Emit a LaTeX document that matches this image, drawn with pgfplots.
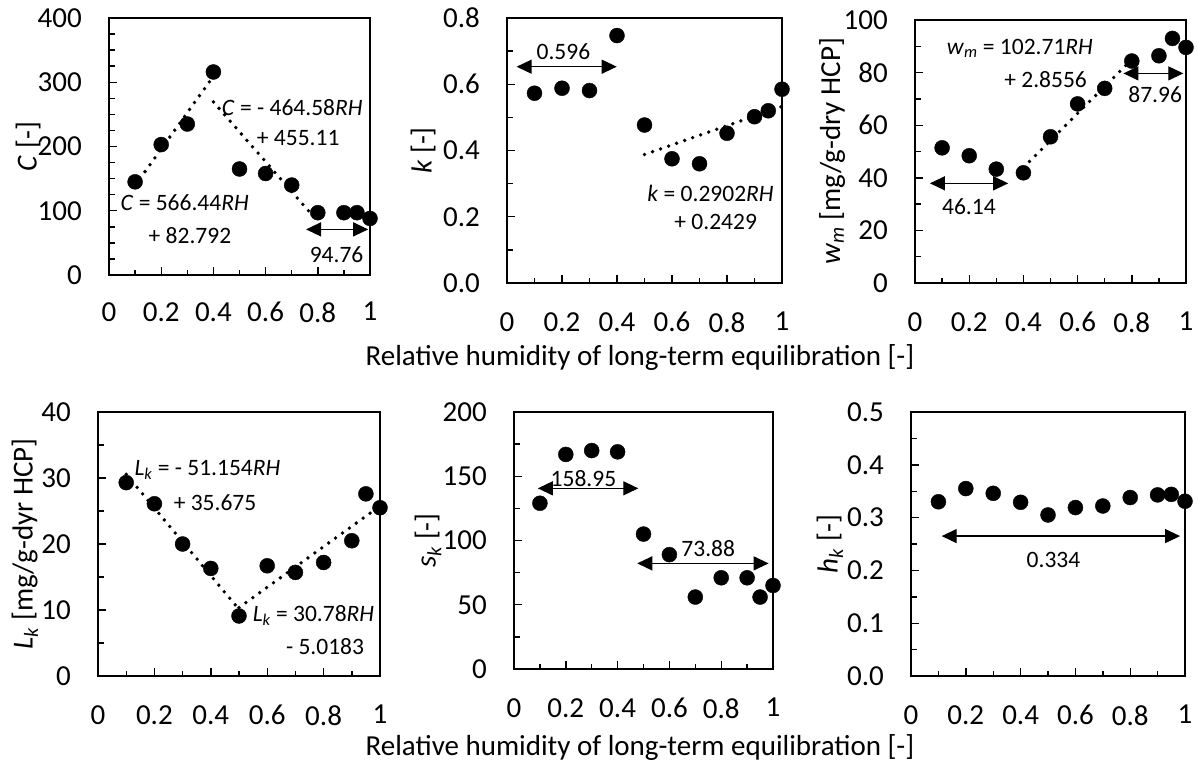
\documentclass[border=0pt]{standalone}
\usepackage{fontspec}
\setmainfont{Carlito}
\usepackage{pgfplots}
\pgfplotsset{compat=1.18}
\usetikzlibrary{arrows.meta}

\pgfplotsset{
  panel/.style={
    scale only axis, clip=false, anchor=south west,
    xmin=0, xmax=1,
    xtick={0,0.2,0.4,0.6,0.8,1},
    minor xtick={0.1,0.3,0.5,0.7,0.9},
    xtick pos=bottom, ytick pos=left, tick align=inside,
    major tick length=8pt, minor tick length=5.5pt,
    every tick/.style={black, line width=1.4pt},
    axis line style={line width=2pt},
    font=\fontsize{29}{34}\selectfont,
    /pgf/number format/assume math mode=true,
    xticklabel style={inner sep=0pt, anchor=north},
    yticklabel style={inner sep=0pt, anchor=east},
    xticklabel shift=29pt,
    yticklabel shift=27pt,
  },
  dots/.style={only marks, mark=*, mark size=7.5pt, black},
  trend/.style={black, line width=3.8pt, line cap=round, dash pattern=on 0pt off 8.5pt, no marks, forget plot},
  dbl/.style={black, line width=1.3pt, no marks, forget plot, {Triangle[length=15pt,width=14pt]}-{Triangle[length=15pt,width=14pt]}},
}
\tikzset{
  ann/.style={font=\fontsize{23.5}{26}\selectfont, inner sep=0pt},
  ylab/.style={rotate=90, font=\fontsize{29}{34}\selectfont, inner sep=0pt},
}

\begin{document}
\begin{tikzpicture}
\path (0,0) rectangle (1198pt,-764pt);

% ---------- Panel 1: C ----------
\begin{axis}[panel, at={(109pt,-275pt)}, width=261pt, height=257pt,
  ymin=0, ymax=400, ytick={0,100,200,300,400}, minor y tick num=3,
  xticklabel shift=27pt]
\addplot[trend] coordinates {(0.1,139.4) (0.4,309.4)};
\addplot[trend] coordinates {(0.4,269.3) (0.8,83.4)};
\addplot[dots] coordinates {(0.1,145) (0.2,203) (0.3,235) (0.4,316) (0.5,165) (0.6,158) (0.7,140) (0.8,97) (0.9,97) (0.95,97) (1.0,88)};
\addplot[dbl] coordinates {(0.755,71) (0.993,71)};
\node[ann] at (axis cs:0.872,31) {94.76};
\node[ann] at (axis cs:0.702,260) {\textit{C} = - 464.58\textit{RH}};
\node[ann] at (axis cs:0.725,213) {+ 455.11};
\node[ann] at (axis cs:0.29,112) {\textit{C} = 566.44\textit{RH}};
\node[ann] at (axis cs:0.31,62) {+ 82.792};
\node[ylab] at (rel axis cs:-0.310,0.5) {\textit{C} [-]};
\end{axis}

% ---------- Panel 2: k ----------
\begin{axis}[panel, at={(507pt,-283pt)}, width=275pt, height=265pt,
  ymin=0, ymax=0.8, ytick={0,0.2,0.4,0.6,0.8}, minor y tick num=1,
  yticklabel style={/pgf/number format/.cd, fixed, fixed zerofill, precision=1}]
\addplot[trend] coordinates {(0.5,0.388) (1.0,0.533)};
\addplot[dots] coordinates {(0.1,0.573) (0.2,0.588) (0.3,0.581) (0.4,0.747) (0.5,0.477) (0.6,0.375) (0.7,0.360) (0.8,0.452) (0.9,0.502) (0.95,0.520) (1.0,0.585)};
\addplot[dbl] coordinates {(0.035,0.653) (0.399,0.653)};
\node[ann] at (axis cs:0.205,0.699) {0.596};
\node[ann] at (axis cs:0.74,0.271) {\textit{k} = 0.2902\textit{RH}};
\node[ann] at (axis cs:0.759,0.185) {+ 0.2429};
\node[ylab] at (rel axis cs:-0.305,0.5) {\textit{k} [-]};
\end{axis}

% ---------- Panel 3: w_m ----------
\begin{axis}[panel, at={(915pt,-283pt)}, width=271pt, height=263pt,
  ymin=0, ymax=100, ytick={0,20,40,60,80,100}, minor y tick num=1]
\addplot[trend] coordinates {(0.4,43.94) (0.8,85.02)};
\addplot[dots] coordinates {(0.1,51.4) (0.2,48.4) (0.3,43.3) (0.4,41.9) (0.5,55.6) (0.6,68.1) (0.7,74.0) (0.8,84.4) (0.9,86.4) (0.95,93.0) (1.0,89.6)};
\addplot[dbl] coordinates {(0.055,37.9) (0.344,37.9)};
\addplot[dbl] coordinates {(0.769,79.7) (0.99,79.7)};
\node[ann] at (axis cs:0.199,29) {46.14};
\node[ann] at (axis cs:0.886,71.7) {87.96};
\node[ann] at (axis cs:0.387,89.2) {\textit{w}\textsubscript{\textit{m}} = 102.71\textit{RH}};
\node[ann] at (axis cs:0.482,77.2) {+ 2.8556};
\node[ylab] at (rel axis cs:-0.306,0.5) {\textit{w}\textsubscript{\textit{m}} [mg/g-dry HCP]};
\end{axis}

% ---------- Panel 4: L_k ----------
\begin{axis}[panel, at={(98pt,-676pt)}, width=282pt, height=264pt,
  ymin=0, ymax=40, ytick={0,10,20,30,40}, minor y tick num=1]
\addplot[trend] coordinates {(0.1,30.56) (0.5,10.10)};
\addplot[trend] coordinates {(0.5,10.37) (1.0,25.76)};
\addplot[dots] coordinates {(0.1,29.3) (0.2,26.1) (0.3,20.0) (0.4,16.3) (0.5,9.1) (0.6,16.7) (0.7,15.7) (0.8,17.2) (0.9,20.5) (0.95,27.6) (1.0,25.5)};
\node[ann] at (axis cs:0.388,31.2) {\textit{L}\textsubscript{\textit{k}} = - 51.154\textit{RH}};
\node[ann] at (axis cs:0.415,26.3) {+ 35.675};
\node[ann] at (axis cs:0.764,9.2) {\textit{L}\textsubscript{\textit{k}} = 30.78\textit{RH}};
\node[ann] at (axis cs:0.805,4.4) {- 5.0183};
\node[ylab] at (rel axis cs:-0.259,0.5) {\textit{L}\textsubscript{\textit{k}} [mg/g-dyr HCP]};
\end{axis}

% ---------- Panel 5: s_k ----------
\begin{axis}[panel, at={(514pt,-669pt)}, width=259pt, height=257pt,
  ymin=0, ymax=200, ytick={0,50,100,150,200}, minor y tick num=1]
\addplot[dots] coordinates {(0.1,129) (0.2,167) (0.3,170) (0.4,169) (0.5,105) (0.6,89) (0.7,56) (0.8,71) (0.9,71) (0.95,56) (1.0,65)};
\addplot[dbl] coordinates {(0.092,140.6) (0.48,140.6)};
\addplot[dbl] coordinates {(0.476,82.2) (0.983,82.2)};
\node[ann] at (axis cs:0.268,148.4) {158.95};
\node[ann] at (axis cs:0.75,94) {73.88};
\node[ylab] at (rel axis cs:-0.332,0.5) {\textit{s}\textsubscript{\textit{k}} [-]};
\end{axis}

% ---------- Panel 6: h_k ----------
\begin{axis}[panel, at={(911pt,-676pt)}, width=274pt, height=264pt,
  ymin=0, ymax=0.5, ytick={0,0.1,0.2,0.3,0.4,0.5}, minor y tick num=1,
  yticklabel style={/pgf/number format/.cd, fixed, fixed zerofill, precision=1}]
\addplot[dots] coordinates {(0.1,0.330) (0.2,0.355) (0.3,0.346) (0.4,0.329) (0.5,0.305) (0.6,0.319) (0.7,0.322) (0.8,0.338) (0.9,0.343) (0.95,0.344) (1.0,0.331)};
\addplot[dbl] coordinates {(0.112,0.265) (0.982,0.265)};
\node[ann] at (axis cs:0.52,0.22) {0.334};
\node[ylab] at (rel axis cs:-0.296,0.5) {\textit{h}\textsubscript{\textit{k}} [-]};
\end{axis}

\node[font=\fontsize{29}{34}\selectfont, inner sep=0pt] at (640pt,-358pt) {Relative humidity of long-term equilibration [-]};
\node[font=\fontsize{29}{34}\selectfont, inner sep=0pt] at (640pt,-747pt) {Relative humidity of long-term equilibration [-]};
\end{tikzpicture}
\end{document}
